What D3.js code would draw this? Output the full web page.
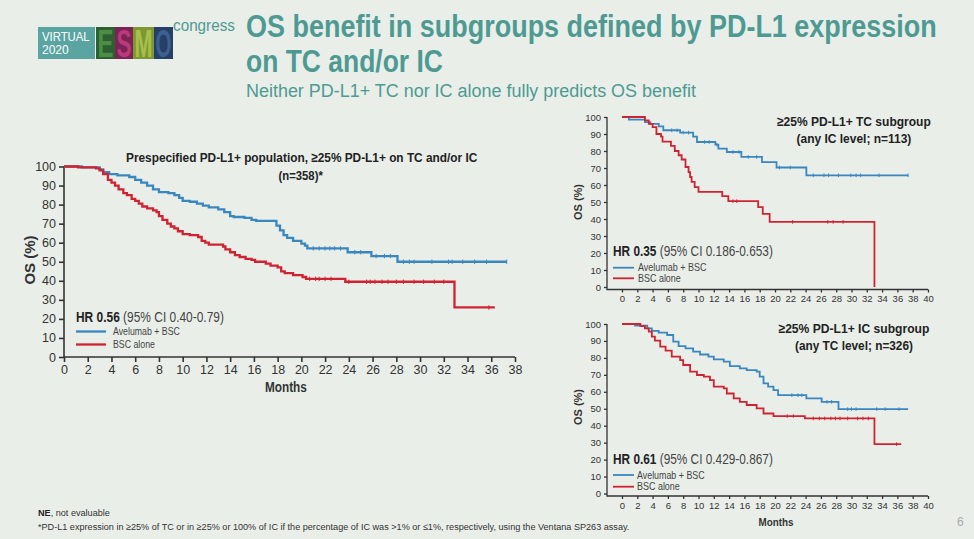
<!DOCTYPE html>
<html lang="en">
<head>
  <meta charset="UTF-8">
  <title>OS benefit in subgroups</title>
  <script src="https://d3js.org/d3.v7.min.js"></script>
  <style>
    body { margin: 0; background: #e9eee9; }
    svg { display: block; font-family: "Liberation Sans", Arial, sans-serif; }
  </style>
</head>
<body>
<script>
// ---- data ----
var xTicksMain = d3.range(0, 39, 2);
var xTicksSub = d3.range(0, 41, 2);
var yTicks = d3.range(0, 101, 10);

// prespecified PD-L1+ population
var mainAveT = [0,1.5,3,3.3,3.8,4.5,5.5,6,6.5,7,7.5,8,8.8,9.3,9.7,10,10.6,11.2,11.7,12.2,13,13.5,14,14.3,15.2,15.8,16.2,17.9,18.2,18.5,18.8,19.3,20,20.3,20.5,23.9,25.9,28.1,37.3];
var mainAveS = [100,99.5,98.5,97,96,95.3,94.5,93,91.5,90,88,86.5,86,85,83.5,82,81.5,80.5,79.5,78.5,77.5,76,74,73.5,73,72,71.5,69,66.5,64,62.5,61,59.5,58.5,57,55,53,50,50];
var mainBscT = [0,1.2,2.7,3,3.3,3.7,4,4.3,4.6,5,5.3,5.7,6,6.3,6.6,7,7.5,7.8,8,8.3,8.7,9,9.3,9.6,10,10.6,11.3,11.6,11.9,12.2,13.4,13.6,14,14.4,14.8,15.3,15.8,16.1,17,17.4,18,18.3,18.6,19.3,20.1,20.4,23.7,32.9,36.3];
var mainBscS = [100,99.5,99,98,96,93,91.5,90,88,86,85,83,82,80.5,79,78,77,76,74,72,70,68.5,67.5,66,64.5,64,63,61,60,59,58,56.5,55,53.5,52.5,51.5,51,50,49,48,47,45,44,43,42,41,39.5,26,26];
var mainAveCens = [21,21.5,22,22.4,22.8,23.3,24.5,25,26.3,27,27.5,28.6,29.1,29.5,31,32.4,32.7,33.6,34.6,35.6,37.3];
var mainBscCens = [20.7,21.2,21.5,22,22.5,24,25.5,25.8,26.2,26.8,27.3,28,28.6,29.5,30.3,31.2,32,35.8];

// >=25% TC subgroup
var tcAveT = [0,0.9,3,3.7,4.8,5.4,7.6,9.3,9.8,12.2,12.6,13.7,15.6,18.3,20.2,24.1,37.4];
var tcAveS = [100,98.5,97,96,94.5,92.2,90.8,88.5,85.3,83.7,81.4,79.4,76.5,73.5,70.3,65.7,65.7];
var tcBscT = [0,3,3.5,4,4.5,5.1,5.3,6.4,6.9,7.4,7.8,8.3,8.7,8.9,9.1,9.5,10,13.1,13.9,17.8,18.4,19.3,33];
var tcBscS = [100,98,96,94,90,88.5,85.5,83,80,77.5,75,70.6,67.6,64.7,61.8,58.8,56,53.5,50.5,47,43,38.3,0];
var tcAveCens = [6.5,7.2,8,8.7,10.8,11.4,12.4,14.5,15.3,16.5,17.6,20.6,22,25,26.4,27,28.3,29.9,30.6,31.2,33.6,37.4];
var tcBscCens = [14.5,15,22.3,26.9,27.6,28.9];

// >=25% IC subgroup
var icAveT = [0,1.7,3.3,3.9,4.8,5.9,6.7,7.4,8.3,9.3,10.2,11.3,12,13.3,14.1,15.4,16.3,17.6,18,18.5,19.1,19.8,20.4,24.1,26.1,28.3,37.4];
var icAveS = [100,99,97.4,96,94.9,93.5,89.6,87,85.6,83.7,82,80.7,79.1,77.8,75.2,73.8,72.8,71.9,68.9,65,63,61,58,56.1,54.1,49.8,49.8];
var icBscT = [0,2.4,3,3.5,3.9,4.3,5,5.7,6.5,7.6,8,8.9,9.8,10.7,11.5,12,13.3,13.7,14.6,15.4,16.3,17.6,18.5,19.8,23.9,33,36.5];
var icBscS = [100,98.8,97.4,95.5,92.5,90.2,86.6,84.3,80.7,78.7,75.8,71.9,69.9,68.9,66.9,63,62,59,56.1,54.1,52.2,50.2,47.2,45.7,44.3,29.1,29.1];
var icAveCens = [22.2,23,23.5,26.8,27.4,29.5,30,30.6,33.3,34.4,36.2];
var icBscCens = [21.6,22.4,25,25.8,26.5,27.3,27.9,28.5,29.5,30.8,31.5,32.2,35.9];

var BLUE = "#3a87c0", RED = "#cf2331", TEAL = "#4e9a93", INK = "#333";

var width = 974, height = 539;
var svg = d3.select("body").append("svg").attr("width", width).attr("height", height);
svg.append("rect").attr("width", width).attr("height", height).attr("fill", "#e9eee9");

// text helper: parts = [[string, weight, colour]], squeezed to a given width
function label(parent, x, y, parts, size, w, anchor, fill) {
  var g = parent.append("g");
  var t = g.append("text").attr("font-size", size).attr("fill", fill || INK);
  parts.forEach(function(p) {
    t.append("tspan").attr("font-weight", p[1] || "normal").attr("fill", p[2] || null).text(p[0]);
  });
  var bw = t.node().getBBox().width;
  var s = w ? w / bw : 1;
  var x0 = anchor === "middle" ? x - bw * s / 2 : x;
  g.attr("transform", "translate(" + x0 + "," + y + ") scale(" + s + ",1)");
  return g;
}

// ---- header ----
var hdr = svg.append("g");
hdr.append("rect").attr("x", 38).attr("y", 27).attr("width", 57).attr("height", 32).attr("fill", "#5aa5a2");
label(hdr, 42, 41, [["VIRTUAL"]], 12, 48, "start", "#fff");
label(hdr, 42, 54, [["2020"]], 12, 27, "start", "#fff");
var esmo = [["E", 96, 19, "#2d5f31", "#4a8f45"], ["S", 115, 18, "#7d2354", "#b83a7c"], ["M", 133, 21, "#7f9733", "#a6c04c"], ["O", 154, 19, "#263f66", "#3d5f91"]];
esmo.forEach(function(e) {
  hdr.append("rect").attr("x", e[1]).attr("y", 27).attr("width", e[2]).attr("height", 32).attr("fill", e[3]);
  label(hdr, e[1] + e[2] / 2, 57, [[e[0], "bold"]], 38, e[2] - 3, "middle", e[4]);
});
label(hdr, 173, 31, [["congress"]], 17, 62, "start", TEAL);
label(svg, 246, 37, [["OS benefit in subgroups defined by PD-L1 expression", "bold"]], 31, 691, "start", TEAL);
label(svg, 246, 72, [["on TC and/or IC", "bold"]], 31, 197, "start", TEAL);
label(svg, 246, 97, [["Neither PD-L1+ TC nor IC alone fully predicts OS benefit"]], 19, 451, "start", TEAL);

// ---- KM chart drawer ----
function drawKM(cfg) {
  var g = svg.append("g");
  var x = d3.scaleLinear().domain(cfg.xDomain).range(cfg.xRange);
  var y = d3.scaleLinear().domain([0, 100]).range(cfg.yRange);

  var xa = g.append("g").attr("transform", "translate(0," + cfg.xAxisY + ")")
    .call(d3.axisBottom(x).tickValues(cfg.xTicks).tickSize(cfg.tick).tickPadding(cfg.pad).tickSizeOuter(0));
  var ya = g.append("g").attr("transform", "translate(" + cfg.yAxisX + ",0)")
    .call(d3.axisLeft(y).tickValues(yTicks).tickSize(cfg.tick).tickPadding(cfg.pad).tickSizeOuter(0));
  [xa, ya].forEach(function(a) {
    a.select(".domain").remove();
    a.selectAll("line").attr("stroke", INK).attr("stroke-width", cfg.axisW);
    a.selectAll("text").attr("font-size", cfg.tickFont).attr("fill", INK).attr("font-family", null);
  });
  g.append("path").attr("fill", "none").attr("stroke", INK).attr("stroke-width", cfg.axisW)
    .attr("d", "M" + cfg.yAxisX + "," + y(100) + "V" + cfg.xAxisY + "H" + x(cfg.xDomain[1]));

  var line = d3.line().curve(d3.curveStepAfter).x(function(d) { return x(d[0]); }).y(function(d) { return y(d[1]); });
  function stepAt(T, S, t) {
    var i = d3.bisectRight(T, t) - 1;
    return S[Math.max(0, i)];
  }
  cfg.series.forEach(function(s) {
    var pts = d3.zip(s.t, s.s);
    g.append("path").datum(pts).attr("fill", "none").attr("stroke", s.color)
      .attr("stroke-width", cfg.lineW).attr("d", line);
    g.selectAll(null).data(s.cens).enter().append("line")
      .attr("x1", function(d) { return x(d); }).attr("x2", function(d) { return x(d); })
      .attr("y1", function(d) { return y(stepAt(s.t, s.s, d)) - cfg.cens; })
      .attr("y2", function(d) { return y(stepAt(s.t, s.s, d)) + cfg.cens; })
      .attr("stroke", s.color).attr("stroke-width", 1);
  });

  // y title
  label(g, 0, 0, [[ "OS (%)", "bold" ]], cfg.yLabFont, null)
    .attr("transform", "translate(" + cfg.yLab[0] + "," + cfg.yLab[1] + ") rotate(-90)")
    .select("text").attr("text-anchor", "middle");
  if (cfg.months) label(g, cfg.months[0], cfg.months[1], [["Months", "bold"]], cfg.monthsFont, cfg.months[2], "middle");
  cfg.titles.forEach(function(tt) { label(g, tt[0], tt[1], [[tt[2], "bold"]], tt[3], tt[4], "middle", "#222"); });
  label(g, cfg.hr[0], cfg.hr[1], [[cfg.hr[2], "bold", "#222"], [cfg.hr[3], "normal", "#444"]], cfg.hrFont, cfg.hr[4], "start");
  cfg.legend.forEach(function(l, i) {
    g.append("line").attr("x1", l[0]).attr("x2", l[1]).attr("y1", l[2]).attr("y2", l[2])
      .attr("stroke", cfg.series[i].color).attr("stroke-width", cfg.lineW);
    label(g, l[3], l[2] + cfg.legFont * 0.36, [[l[4]]], cfg.legFont, l[5], "start", "#444");
  });
}

drawKM({
  xDomain: [0, 38], xRange: [64, 515], yRange: [357, 166.5],
  xAxisY: 357, yAxisX: 64, xTicks: xTicksMain, tick: 5, pad: 3, axisW: 1.6, tickFont: 12.5,
  lineW: 2.3, cens: 2.2,
  series: [
    { t: mainAveT, s: mainAveS, color: BLUE, cens: mainAveCens },
    { t: mainBscT, s: mainBscS, color: RED, cens: mainBscCens }
  ],
  yLab: [35, 260], yLabFont: 15,
  months: [286, 392, 42], monthsFont: 14,
  titles: [[302, 162, "Prespecified PD-L1+ population, \u226525% PD-L1+ on TC and/or IC", 13.5, 352], [301, 180, "(n=358)*", 13.5, 45]],
  hr: [76, 322, "HR 0.56", " (95% CI 0.40-0.79)", 148], hrFont: 15.5,
  legend: [[76, 106, 331.5, 113, "Avelumab + BSC", 67], [76, 106, 344.5, 113, "BSC alone", 42]], legFont: 11
});

drawKM({
  xDomain: [0, 40], xRange: [622, 928], yRange: [287, 117],
  xAxisY: 289.5, yAxisX: 607, xTicks: xTicksSub, tick: 3, pad: 3, axisW: 1.3, tickFont: 9.5,
  lineW: 1.8, cens: 1.8,
  series: [
    { t: tcAveT, s: tcAveS, color: BLUE, cens: tcAveCens },
    { t: tcBscT, s: tcBscS, color: RED, cens: tcBscCens }
  ],
  yLab: [582, 202], yLabFont: 11,
  months: null,
  titles: [[854, 126, "\u226525% PD-L1+ TC subgroup", 13.5, 154], [854, 143, "(any IC level; n=113)", 13.5, 115]],
  hr: [613, 256, "HR 0.35", " (95% CI 0.186-0.653)", 160], hrFont: 14,
  legend: [[613, 634, 267.7, 638, "Avelumab + BSC", 69], [613, 634, 278.3, 638, "BSC alone", 43]], legFont: 10.5
});

drawKM({
  xDomain: [0, 40], xRange: [622, 928], yRange: [493.5, 324],
  xAxisY: 496, yAxisX: 607, xTicks: xTicksSub, tick: 3, pad: 3, axisW: 1.3, tickFont: 9.5,
  lineW: 1.8, cens: 1.8,
  series: [
    { t: icAveT, s: icAveS, color: BLUE, cens: icAveCens },
    { t: icBscT, s: icBscS, color: RED, cens: icBscCens }
  ],
  yLab: [582, 407], yLabFont: 11,
  months: [776, 526, 35], monthsFont: 11.5,
  titles: [[854, 333, "\u226525% PD-L1+ IC subgroup", 13.5, 151], [854, 350, "(any TC level; n=326)", 13.5, 118]],
  hr: [613, 464, "HR 0.61", " (95% CI 0.429-0.867)", 160], hrFont: 14,
  legend: [[613, 634, 475, 637, "Avelumab + BSC", 68], [613, 634, 486.7, 637, "BSC alone", 43]], legFont: 10.5
});

// ---- footer ----
label(svg, 38, 516, [["NE", "bold", "#222"], [", not evaluable"]], 9.5, 72, "start", "#333");
label(svg, 38, 530, [["*PD-L1 expression in \u226525% of TC or in \u226525% or 100% of IC if the percentage of IC was >1% or \u22641%, respectively, using the Ventana SP263 assay."]], 9.5, 592, "start", "#333");
svg.append("text").attr("x", 957).attr("y", 526).attr("font-size", 12).attr("fill", "#aaa").text("6");
</script>
</body>
</html>
